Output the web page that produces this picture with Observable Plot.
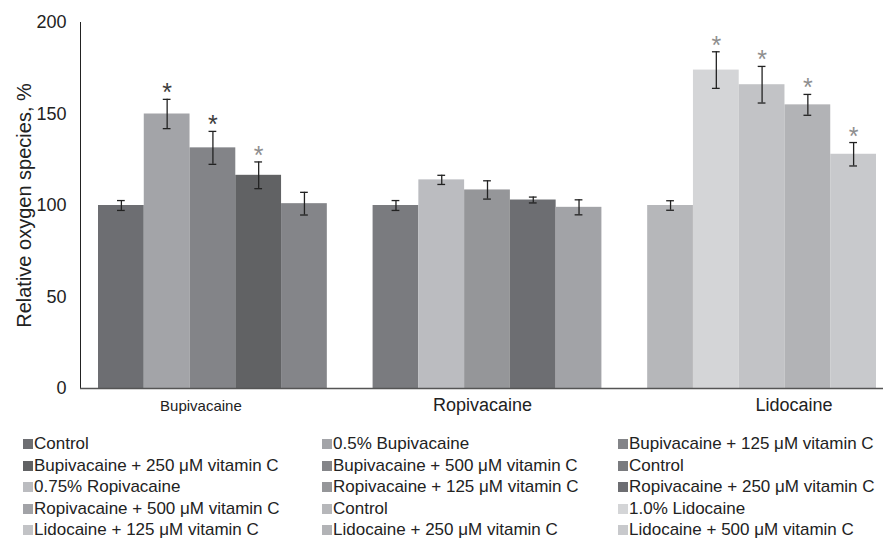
<!DOCTYPE html>
<html>
<head>
<meta charset="utf-8">
<script src="https://cdn.jsdelivr.net/npm/d3@7"></script>
<script src="https://cdn.jsdelivr.net/npm/@observablehq/plot@0.6"></script>
<style>
  html, body { margin: 0; padding: 0; background: #fff; }
  body { width: 883px; height: 541px; overflow: hidden; font-family: "Liberation Sans", Arial, sans-serif; }
  #legend { position: relative; height: 116px; }
  .item { position: absolute; font-size: 17px; color: #222; line-height: 22px; white-space: nowrap; }
  .sw { display: inline-block; width: 10px; height: 10px; margin-right: 1px; vertical-align: 0px; }
</style>
</head>
<body>
<div id="chart"></div>
<div id="legend"></div>
<script>
const groups = ["Bupivacaine", "Ropivacaine", "Lidocaine"];
const seriesLabels = [
  "Control", "0.5% Bupivacaine", "Bupivacaine + 125 \u03bcM vitamin C", "Bupivacaine + 250 \u03bcM vitamin C", "Bupivacaine + 500 \u03bcM vitamin C",
  "Control", "0.75% Ropivacaine", "Ropivacaine + 125 \u03bcM vitamin C", "Ropivacaine + 250 \u03bcM vitamin C", "Ropivacaine + 500 \u03bcM vitamin C",
  "Control", "1.0% Lidocaine", "Lidocaine + 125 \u03bcM vitamin C", "Lidocaine + 250 \u03bcM vitamin C", "Lidocaine + 500 \u03bcM vitamin C"
];
const values = [100, 150, 131.5, 116.5, 101, 100, 114, 108.5, 103, 99, 100, 174, 166, 155, 128];
const errors = [2.7, 8, 9, 7.3, 6.2, 2.7, 2.5, 5, 1.6, 4.1, 2.6, 10, 10, 5.7, 6.4];
const significant = [false, true, true, true, false, false, false, false, false, false, false, true, true, true, true];
const yTicks = [0, 50, 100, 150, 200];

const barColors = ["#6d6e72", "#a3a4a8", "#838488", "#616264", "#848589",
                   "#7a7b7f", "#bbbcc0", "#959699", "#6d6e72", "#a2a3a7",
                   "#b6b7ba", "#d4d5d7", "#c2c3c6", "#b2b3b6", "#c8c9cc"];
const starColors = ["", "#3c3c3c", "#3c3c3c", "#8e8e8e", "", "", "", "", "", "", "", "#8e8e8e", "#8e8e8e", "#8e8e8e", "#8e8e8e"];

const rows = seriesLabels.map((label, k) => {
  const g = groups[Math.floor(k / 5)];
  return {label, group: g, key: g + "-" + (k % 5), value: values[k], err: errors[k],
          color: barColors[k], star: significant[k], starColor: starColors[k]};
});
const xDomain = [];
groups.forEach((g, gi) => {
  if (gi > 0) xDomain.push("gap" + gi);
  for (let i = 0; i < 5; i++) xDomain.push(g + "-" + i);
});

const labelDx = [-12, -5, 32];
const labelSize = [15, 18, 18];

const chart = Plot.plot({
  width: 883,
  height: 425,
  marginLeft: 80,
  marginRight: 0,
  marginTop: 22,
  marginBottom: 37,
  style: {fontFamily: "Liberation Sans, Arial, sans-serif", fontSize: "18px", color: "#222", background: "white"},
  x: {domain: xDomain, padding: 0, round: false, insetLeft: 18, insetRight: 7, axis: null},
  y: {domain: [0, 200], ticks: yTicks, tickSize: 0, tickPadding: 14, label: null, line: true},
  color: {type: "identity"},
  marks: [
    Plot.barY(rows, {x: "key", y: "value", fill: "color", insetLeft: 0, insetRight: 0}),
    Plot.ruleY([0], {stroke: "#555", strokeWidth: 1.5}),
    Plot.ruleX(rows, {x: "key", y1: d => d.value - d.err, y2: d => d.value + d.err, stroke: "#222", strokeWidth: 1.3}),
    Plot.tickY(rows, {x: "key", y: d => d.value - d.err, stroke: "#222", strokeWidth: 1.3, insetLeft: 19, insetRight: 19}),
    Plot.tickY(rows, {x: "key", y: d => d.value + d.err, stroke: "#222", strokeWidth: 1.3, insetLeft: 19, insetRight: 19}),
    Plot.text(rows.filter(d => d.star), {x: "key", y: d => d.value + d.err, text: () => "*", fill: "starColor", fontSize: 25, dy: -6}),
    ...groups.map((g, gi) => Plot.text([g], {x: () => g + "-2", text: d => d, frameAnchor: "bottom", dy: 22, dx: labelDx[gi], fontSize: labelSize[gi], fill: "#222"})),
    Plot.text(["Relative oxygen species, %"], {text: d => d, frameAnchor: "left", textAnchor: "middle", rotate: -90, dx: -56, fontSize: 20, fill: "#222"})
  ]
});
document.getElementById("chart").appendChild(chart);

const legend = document.getElementById("legend");
const colLeft = [23, 322, 618];
seriesLabels.forEach((label, k) => {
  const col = k % 3, row = Math.floor(k / 3);
  const div = document.createElement("div");
  div.className = "item";
  div.style.left = colLeft[col] + "px";
  div.style.top = (8 + row * 21.6) + "px";
  const sw = document.createElement("span");
  sw.className = "sw";
  sw.style.background = barColors[k];
  div.appendChild(sw);
  div.appendChild(document.createTextNode(label));
  legend.appendChild(div);
});
</script>
</body>
</html>
